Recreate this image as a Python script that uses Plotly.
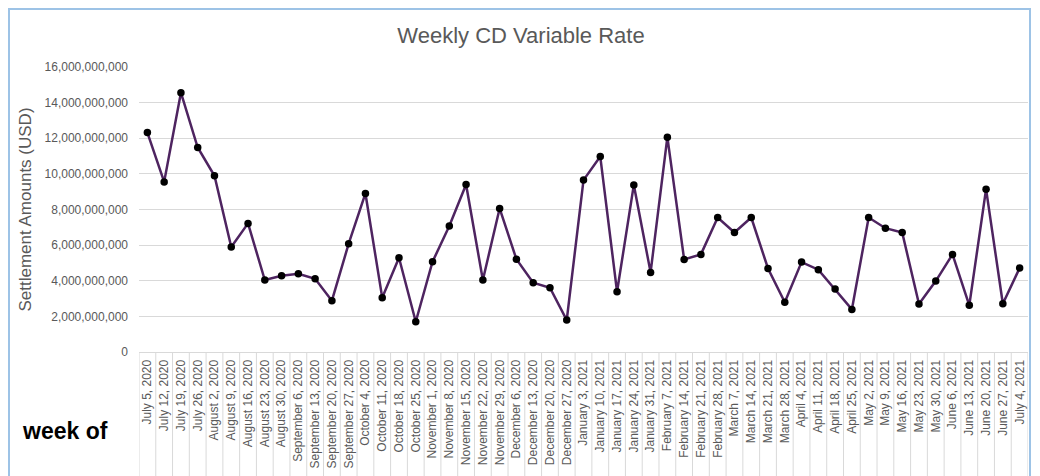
import plotly.graph_objects as go

weeks = [
    "July 5, 2020", "July 12, 2020", "July 19, 2020", "July 26, 2020",
    "August 2, 2020", "August 9, 2020", "August 16, 2020", "August 23, 2020", "August 30, 2020",
    "September 6, 2020", "September 13, 2020", "September 20, 2020", "September 27, 2020",
    "October 4, 2020", "October 11, 2020", "October 18, 2020", "October 25, 2020",
    "November 1, 2020", "November 8, 2020", "November 15, 2020", "November 22, 2020", "November 29, 2020",
    "December 6, 2020", "December 13, 2020", "December 20, 2020", "December 27, 2020",
    "January 3, 2021", "January 10, 2021", "January 17, 2021", "January 24, 2021", "January 31, 2021",
    "February 7, 2021", "February 14, 2021", "February 21, 2021", "February 28, 2021",
    "March 7, 2021", "March 14, 2021", "March 21, 2021", "March 28, 2021",
    "April 4, 2021", "April 11, 2021", "April 18, 2021", "April 25, 2021",
    "May 2, 2021", "May 9, 2021", "May 16, 2021", "May 23, 2021", "May 30, 2021",
    "June 6, 2021", "June 13, 2021", "June 20, 2021", "June 27, 2021",
    "July 4, 2021",
]

settlement_billions = [
    12.32, 9.55, 14.56, 11.48,
    9.89, 5.89, 7.22, 4.04, 4.28,
    4.39, 4.11, 2.88, 6.08,
    8.90, 3.05, 5.29, 1.70,
    5.07, 7.07, 9.40, 4.04, 8.06,
    5.21, 3.89, 3.61, 1.79,
    9.65, 10.97, 3.38, 9.38, 4.47,
    12.06, 5.20, 5.48, 7.55,
    6.71, 7.55, 4.69, 2.79,
    5.05, 4.62, 3.53, 2.39,
    7.55, 6.95, 6.71, 2.69, 3.98,
    5.48, 2.62, 9.14, 2.71,
    4.71,
]
settlement = [v * 1e9 for v in settlement_billions]

y_ticks = [0, 2e9, 4e9, 6e9, 8e9, 10e9, 12e9, 14e9, 16e9]

GRAY = "#595959"
GRID = "#D9D9D9"
FONT = "Liberation Sans"

# page body has an 8px margin, so figure coords = screen coords - 8
OFF = 8
W, H = 1040, 476
L, T = 139 - OFF, 67 - OFF
pw, ph = 889, 285
R = W - L - pw
B = H - T - ph

def sx(px):  # screen x -> paper x
    return (px - OFF - L) / pw

def sy(py):  # screen y -> paper y
    return (T + ph - (py - OFF)) / ph

fig = go.Figure()
fig.add_trace(go.Scatter(
    x=weeks, y=settlement, mode="lines+markers",
    line=dict(color="#4E2460", width=2.5),
    marker=dict(color="#000000", size=7.5),
    hoverinfo="x+y",
))

shapes = []
for i in range(len(weeks) + 1):
    shapes.append(dict(type="line", xref="x", yref="paper",
                       x0=i - 0.5, x1=i - 0.5, y0=0, y1=sy(490),
                       line=dict(color=GRID, width=1), layer="below"))
shapes.append(dict(type="rect", xref="paper", yref="paper",
                   x0=sx(9), x1=sx(1030), y0=sy(500), y1=sy(9),
                   line=dict(color="#9DC3E6", width=2)))

fig.update_layout(
    width=W, height=H,
    margin=dict(l=L, r=R, t=T, b=B),
    paper_bgcolor="white", plot_bgcolor="white",
    showlegend=False,
    font=dict(family=FONT, color=GRAY),
    title=dict(text="Weekly CD Variable Rate", x=(521 - OFF) / W, xanchor="center",
               y=1 - (35 - OFF) / H, yanchor="middle",
               font=dict(family=FONT, size=22, color=GRAY)),
    xaxis=dict(
        type="category", categoryorder="array", categoryarray=weeks,
        range=[-0.5, len(weeks) - 0.5],
        tickangle=-90, tickfont=dict(family=FONT, size=12, color=GRAY),
        showgrid=False, showline=True, linecolor=GRID, linewidth=1,
        ticks="", zeroline=False, ticklabelstandoff=2,
    ),
    yaxis=dict(
        range=[0, 16e9], tickvals=y_ticks, tickformat=",d",
        tickfont=dict(family=FONT, size=12, color=GRAY),
        showgrid=True, gridcolor=GRID, gridwidth=1,
        zeroline=False, showline=False, ticks="",
        ticklabelstandoff=10,
        title=dict(text="Settlement Amounts (USD)", standoff=8,
                   font=dict(family=FONT, size=17, color=GRAY)),
    ),
    shapes=shapes,
    annotations=[dict(text="<b>week of</b>", xref="paper", yref="paper",
                      x=sx(20), y=sy(431),
                      xanchor="left", yanchor="middle", showarrow=False,
                      font=dict(family=FONT, size=23, color="#000000"))],
)

fig.write_html("out.html")
